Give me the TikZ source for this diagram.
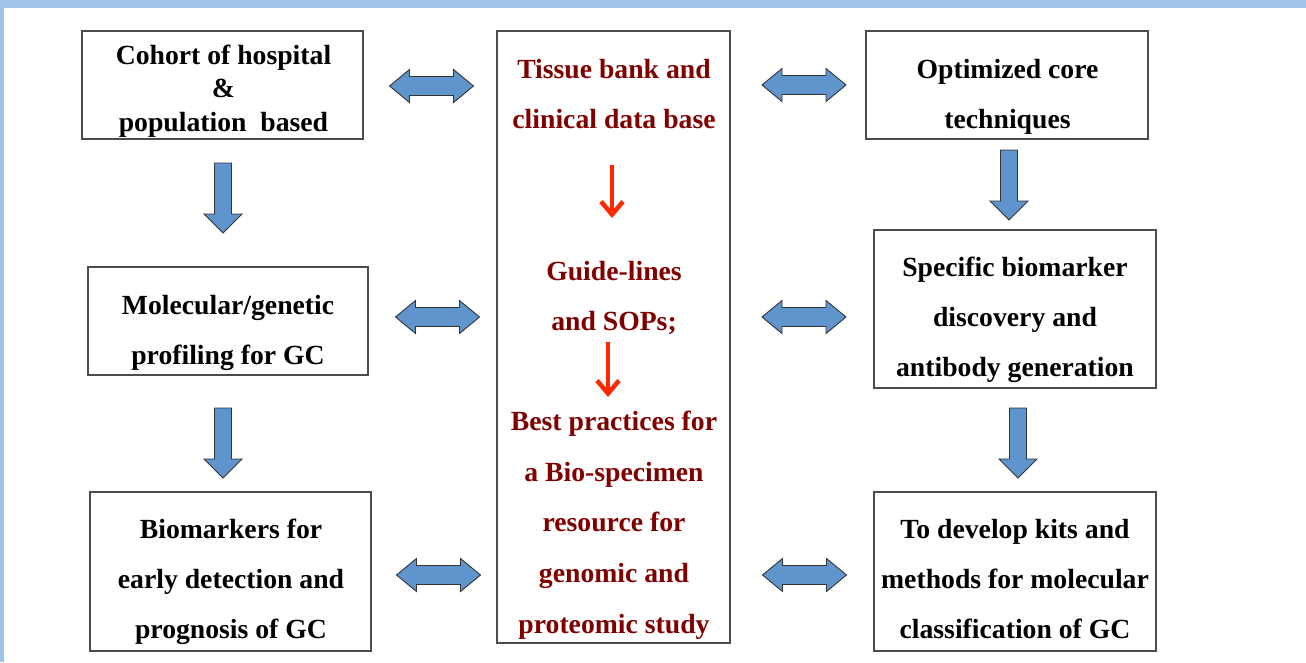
\documentclass[tikz,border=0pt]{standalone}
\usepackage{fontspec}
\setmainfont{Liberation Serif}
\usetikzlibrary{arrows.meta}
\definecolor{barblue}{RGB}{160,196,232}
\definecolor{arrblue}{RGB}{96,148,205}
\definecolor{txtred}{RGB}{128,0,0}
\definecolor{arrred}{RGB}{255,40,0}
\tikzset{
  box/.style={draw=black!70, line width=1.3pt, rectangle, inner sep=0pt, outer sep=0pt, fill=white},
  txt/.style={align=center, inner sep=0pt, font=\bfseries\fontsize{27.7}{50}\selectfont, execute at begin node=\strut},
  txtA/.style={align=center, inner sep=0pt, font=\bfseries\fontsize{27.7}{33.5}\selectfont, execute at begin node=\strut},
  ctxt/.style={txt, text=txtred},
  blk/.style={fill=arrblue, draw=black!80, line width=0.9pt, line join=miter},
  redarr/.style={draw=arrred, line width=4.5pt, -{Straight Barb[length=13pt,width=22pt]}},
  harr/.pic={\path[blk] (-42,0) -- (-22,-16.5) -- (-22,-9.5) -- (22,-9.5) -- (22,-16.5) -- (42,0) -- (22,16.5) -- (22,9.5) -- (-22,9.5) -- (-22,16.5) -- cycle;},
  varr/.pic={\path[blk] (-8.5,-35) -- (8.5,-35) -- (8.5,16) -- (19,16) -- (0,35) -- (-19,16) -- (-8.5,16) -- cycle;}
}
\begin{document}
\begin{tikzpicture}[x=1pt,y=-1pt]
\useasboundingbox (0,0) rectangle (1306,662);
\fill[white] (0,0) rectangle (1306,662);
\fill[barblue] (0,0) rectangle (1306,8.3);
\fill[barblue] (0,0) rectangle (4,662);

% boxes
\node[box, minimum width=281, minimum height=108] (b1) at (222.5,85) {};
\node[box, minimum width=233, minimum height=612] (bc) at (613.5,337) {};
\node[box, minimum width=282, minimum height=108] (b2) at (1007,85) {};
\node[box, minimum width=280, minimum height=108] (b3) at (228,321) {};
\node[box, minimum width=282, minimum height=158] (b4) at (1015,309) {};
\node[box, minimum width=281, minimum height=159] (b5) at (230.5,571.5) {};
\node[box, minimum width=282, minimum height=159] (b6) at (1015,571.5) {};

% texts
\node[txtA] (t1) at (223.5,93.2) {Cohort of hospital\\\&\\population\ \ based};
\node[txt] (t2) at (1007.5,101.4) {Optimized core\\techniques};
\node[txt] (t3) at (228,337.4) {Molecular/genetic\\profiling for GC};
\node[txt] (t4) at (1015,324.4) {Specific biomarker\\discovery and\\antibody generation};
\node[txt] (t5) at (231,586.4) {Biomarkers for\\early detection and\\prognosis of GC};
\node[txt] (t6) at (1015,586.4) {To develop kits and\\methods for molecular\\classification of GC};
\node[ctxt] (c1) at (614,101.4) {Tissue bank and\\clinical data base};
\node[ctxt] (c2) at (614,303.4) {Guide-lines\\and SOPs;};
\node[ctxt, font=\bfseries\fontsize{27.7}{50.75}\selectfont] (c3) at (614,529.7) {Best practices for\\a Bio-specimen\\resource for\\genomic and\\proteomic study};

% red arrows
\coordinate (r1a) at (612,165);
\coordinate (r1b) at (612,218);
\coordinate (r2a) at (608,342);
\coordinate (r2b) at (608,397);
\draw[redarr] (r1a) -- (r1b);
\draw[redarr] (r2a) -- (r2b);

% horizontal double arrows
\pic (ha1) at (431.5,86) {harr};
\pic (ha2) at (804,85) {harr};
\pic (ha3) at (437.5,317) {harr};
\pic (ha4) at (804,317) {harr};
\pic (ha5) at (438.5,575) {harr};
\pic (ha6) at (804.5,575) {harr};

% vertical arrows
\pic (va1) at (223,198) {varr};
\pic (va2) at (223,443) {varr};
\pic (va3) at (1009,185) {varr};
\pic (va4) at (1018,443) {varr};
\end{tikzpicture}
\end{document}
